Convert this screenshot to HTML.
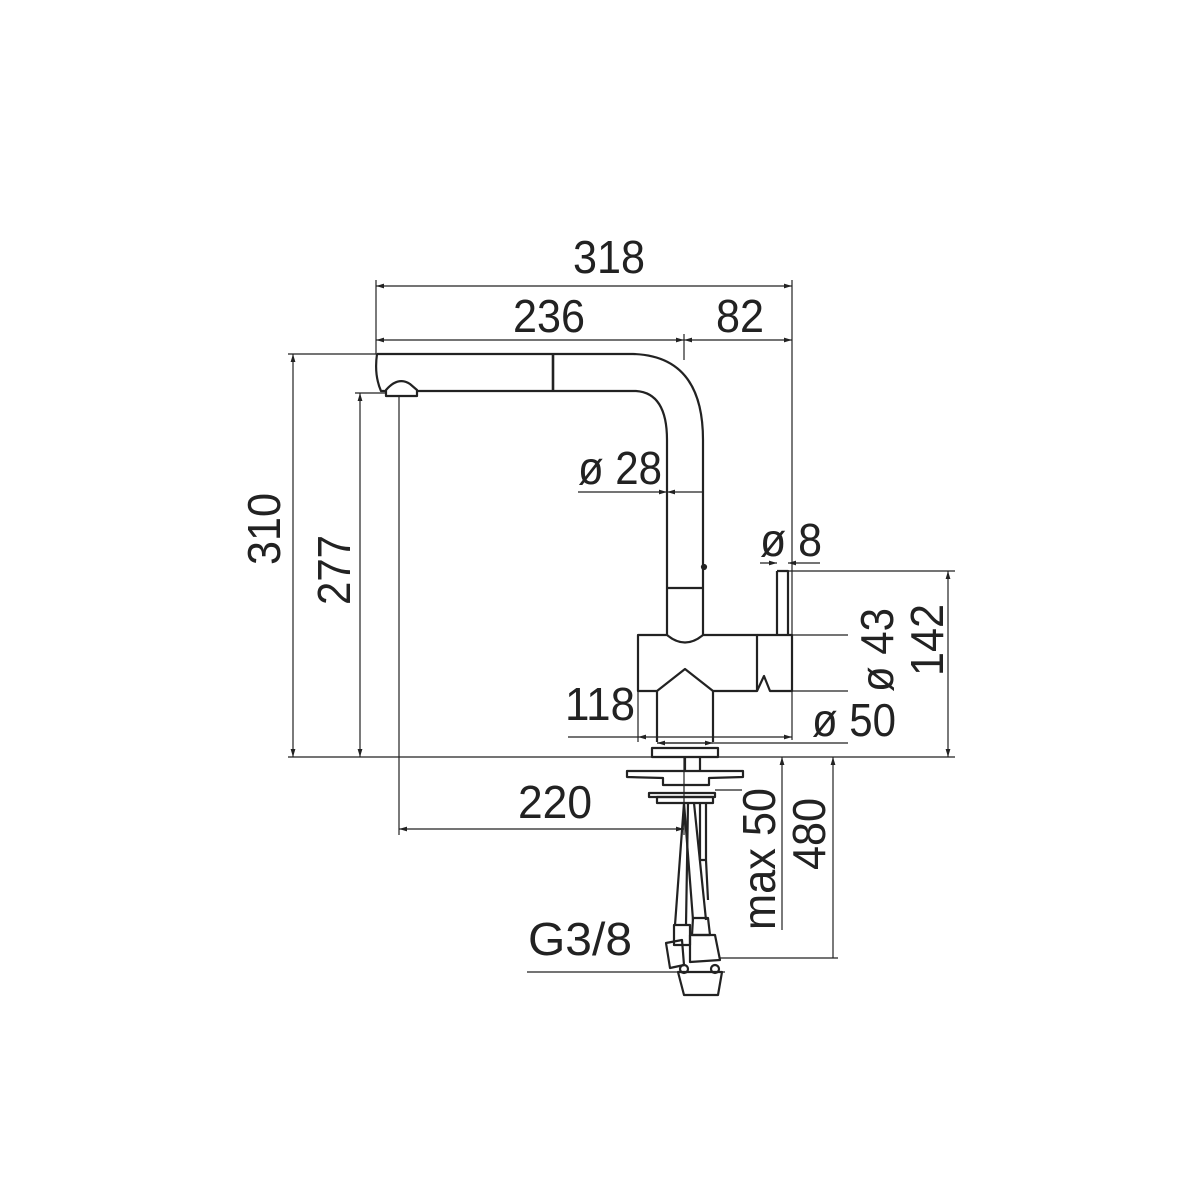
<!DOCTYPE html>
<html><head><meta charset="utf-8"><style>html,body{margin:0;padding:0;background:#fff}svg{display:block}</style></head>
<body>
<svg width="1200" height="1200" viewBox="0 0 1200 1200" xmlns="http://www.w3.org/2000/svg">
<defs>
<marker id="a" viewBox="0 0 10 6" refX="10" refY="3" markerWidth="8" markerHeight="5" orient="auto-start-reverse" markerUnits="userSpaceOnUse"><path d="M0,0 L10,3 L0,6z" fill="#222"/></marker>
</defs>
<g font-family="Liberation Sans, sans-serif" font-size="46" fill="#222">
<text x="573" y="273" textLength="72" lengthAdjust="spacingAndGlyphs">318</text>
<text x="513" y="332" textLength="72" lengthAdjust="spacingAndGlyphs">236</text>
<text x="716" y="332" textLength="48" lengthAdjust="spacingAndGlyphs">82</text>
<text x="578" y="484" textLength="84" lengthAdjust="spacingAndGlyphs">ø 28</text>
<text x="760" y="556" textLength="62" lengthAdjust="spacingAndGlyphs">ø 8</text>
<text x="565" y="720" textLength="70" lengthAdjust="spacingAndGlyphs">118</text>
<text x="812" y="736" textLength="84" lengthAdjust="spacingAndGlyphs">ø 50</text>
<text x="518" y="818" textLength="74" lengthAdjust="spacingAndGlyphs">220</text>
<text x="528" y="955" textLength="104" lengthAdjust="spacingAndGlyphs">G3/8</text>
<text transform="translate(280,565) rotate(-90)" textLength="72" lengthAdjust="spacingAndGlyphs">310</text>
<text transform="translate(350,605) rotate(-90)" textLength="70" lengthAdjust="spacingAndGlyphs">277</text>
<text transform="translate(893,692) rotate(-90)" textLength="84" lengthAdjust="spacingAndGlyphs">ø 43</text>
<text transform="translate(943,676) rotate(-90)" textLength="72" lengthAdjust="spacingAndGlyphs">142</text>
<text transform="translate(775,930) rotate(-90)" textLength="142" lengthAdjust="spacingAndGlyphs">max 50</text>
<text transform="translate(825,870) rotate(-90)" textLength="72" lengthAdjust="spacingAndGlyphs">480</text>
</g>
<g stroke="#222" stroke-width="1.2" fill="none">
<!-- extension lines -->
<line x1="376" y1="280" x2="376" y2="354"/>
<line x1="792" y1="280" x2="792" y2="740"/>
<line x1="684" y1="334" x2="684" y2="360"/>
<line x1="288" y1="354" x2="377" y2="354"/>
<line x1="355" y1="393" x2="386" y2="393"/>
<line x1="399" y1="396" x2="399" y2="835"/>
<line x1="788" y1="571" x2="955" y2="571"/>
<line x1="757" y1="635" x2="848" y2="635"/>
<line x1="792" y1="691" x2="848" y2="691"/>
<line x1="638" y1="691" x2="638" y2="742"/>
<line x1="288" y1="757" x2="955" y2="757"/>
<line x1="715" y1="790" x2="742" y2="790"/>
<line x1="720" y1="958" x2="838" y2="958"/>
<line x1="527" y1="972" x2="725" y2="972"/>
<line x1="684" y1="757" x2="684" y2="835"/>
<!-- dimension lines -->
<line x1="376" y1="286" x2="792" y2="286" marker-start="url(#a)" marker-end="url(#a)"/>
<line x1="376" y1="340" x2="684" y2="340" marker-start="url(#a)" marker-end="url(#a)"/>
<line x1="684" y1="340" x2="792" y2="340" marker-start="url(#a)" marker-end="url(#a)"/>
<line x1="293" y1="354" x2="293" y2="757" marker-start="url(#a)" marker-end="url(#a)"/>
<line x1="360" y1="393" x2="360" y2="757" marker-start="url(#a)" marker-end="url(#a)"/>
<line x1="578" y1="492" x2="667" y2="492" marker-end="url(#a)"/>
<line x1="703" y1="492" x2="667" y2="492" marker-end="url(#a)"/>
<line x1="760" y1="563" x2="777" y2="563" marker-end="url(#a)"/>
<line x1="820" y1="563" x2="788" y2="563" marker-end="url(#a)"/>
<line x1="948" y1="571" x2="948" y2="757" marker-start="url(#a)" marker-end="url(#a)"/>
<line x1="568" y1="737" x2="638" y2="737"/>
<line x1="638" y1="737" x2="792" y2="737" marker-start="url(#a)" marker-end="url(#a)"/>
<line x1="657" y1="743" x2="848" y2="743"/>
<line x1="657" y1="743" x2="713" y2="743" marker-start="url(#a)" marker-end="url(#a)"/>
<line x1="399" y1="829" x2="684" y2="829" marker-start="url(#a)" marker-end="url(#a)"/>
<line x1="782" y1="930" x2="782" y2="757" marker-end="url(#a)"/>
<line x1="833" y1="958" x2="833" y2="757" marker-end="url(#a)"/>
</g>
<g stroke="#222" stroke-width="2.2" fill="none" stroke-linejoin="round">
<!-- spout -->
<path d="M377,354 L633,354 Q703,356 703,440 L703,635"/>
<path d="M377,354 Q374,375 381,391 L386,391"/>
<path d="M417,391 L636,391 Q667,393 667,440 L667,635"/>
<path d="M386,396 L386,390 Q398,376 410,384 L417,390 L417,396 Z"/>
<line x1="553" y1="354" x2="553" y2="390" stroke-width="2.6"/>
<line x1="667" y1="588" x2="703" y2="588"/>
<circle cx="704" cy="567" r="2" fill="#222"/>
<!-- body -->
<path d="M638,635 L667,635 Q685,650 703,635 L757,635 L757,691 L713,691 L685,669 L657,691 L638,691 Z"/>
<path d="M757,635 L792,635 L792,691 L770,691 L764,676 L757,691"/>
<path d="M777,571 L788,571 L788,635 M777,571 L777,635"/>
<path d="M657,691 L657,742 M713,691 L713,742"/>
<rect x="652" y="748" width="66" height="9"/>
<!-- under counter -->
<line x1="685" y1="757" x2="685" y2="771"/><line x1="700" y1="757" x2="700" y2="771"/>
<path d="M627,771 L743,771 L743,777 L709,778 L709,785 L663,785 L663,778 L627,777 Z"/>
<rect x="649" y="793" width="66" height="4"/>
<rect x="657" y="797" width="56" height="6"/>
<path d="M684,803 L675,925 M688,803 L686,925"/>
<path d="M684,803 L693,920 M694,803 L706,920"/>
<path d="M700,803 L700,860 L706,860 L706,803 M706,860 L708,900"/>
<path d="M674,925 L690,925 L690,945 L674,945 Z"/>
<path d="M693,918 L708,918 L710,935 L692,935 Z"/>
<path d="M666,943 L682,940 L684,965 L670,968 Z"/>
<path d="M690,935 L715,935 L720,960 L690,962 Z"/>
<circle cx="684" cy="969" r="4"/><circle cx="715" cy="969" r="4"/>
<path d="M678,972 L722,972 L718,995 L684,995 Z"/>
</g>
</svg>
</body></html>
